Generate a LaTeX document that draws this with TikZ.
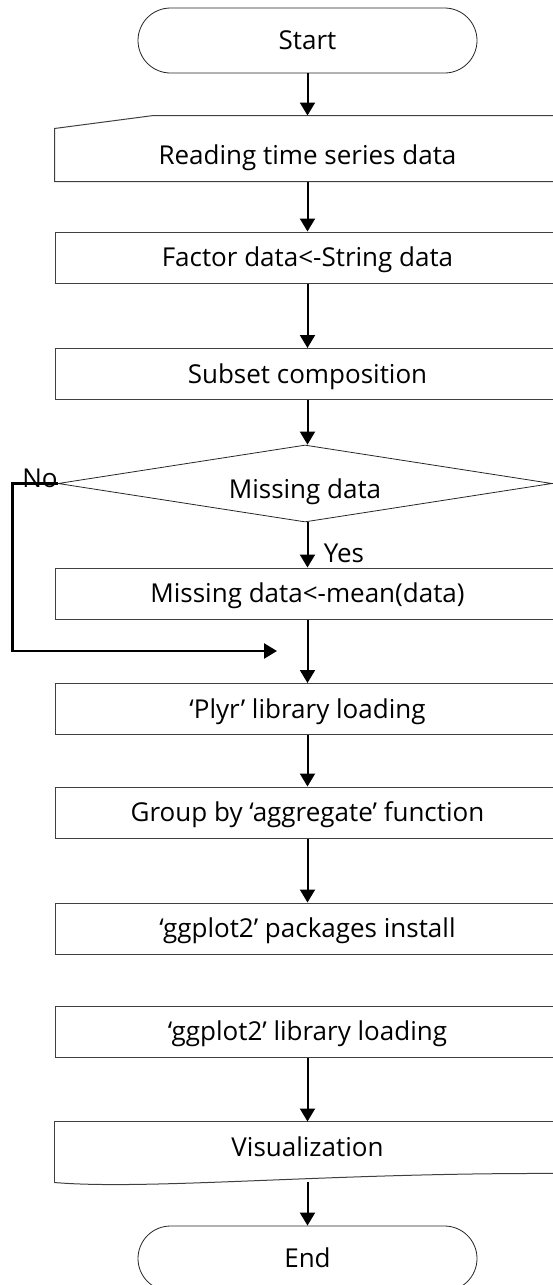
\documentclass[tikz,border=0pt]{standalone}
\usepackage{fontspec}
\setmainfont{Open Sans}
\usetikzlibrary{shapes.geometric,arrows.meta}

\begin{document}
\begin{tikzpicture}[x=1pt,y=-1pt,
    txt/.style={font=\fontsize{26}{30}\selectfont, text height=18.6pt, text depth=0pt, inner sep=0pt},
    terminal/.style={txt, draw=black!85, line width=0.8pt, rounded corners=32.5pt, minimum width=339pt, minimum height=65pt},
    process/.style={txt, draw=black!75, line width=1pt, minimum width=505pt, minimum height=51pt},
    outline/.style={draw=black!75, line width=1pt},
    decision/.style={txt, text height=30.6pt, draw=black!85, line width=0.8pt, diamond, aspect=6.4, minimum width=494pt, minimum height=77pt},
    flow/.style={line width=2pt, -{Triangle[length=13pt,width=15pt]}},
    noflow/.style={flow, line width=2.5pt},
    tag/.style={txt}]
    \useasboundingbox (0,0) rectangle (552,1285);

    \node[terminal] (start) at (307.5,40.5) {Start};
    \node[process, draw=none, minimum height=52pt] (read) at (307.5,155) {Reading time series data};
    \draw[outline] (read.south east) -- (read.south west) -- (read.north west) -- ++(99,-13) -- ([yshift=13pt]read.north east);
    \node[process] (factor) at (307.5,257.5) {Factor data<-String data};
    \node[process] (subset) at (307.5,374) {Subset composition};
    \node[decision] (dec) at (305,483.5) {Missing data};
    \node[process] (missing) at (307.5,593.5) {Missing data<-mean(data)};
    \node[process] (plyr) at (307.5,709) {‘Plyr’ library loading};
    \node[process] (group) at (307.5,812.5) {Group by ‘aggregate’ function};
    \node[process] (install) at (307.5,928.5) {‘ggplot2’ packages install};
    \node[process] (library) at (307.5,1031.5) {‘ggplot2’ library loading};
    \node[process, draw=none, minimum height=50pt] (vis) at (307.5,1147) {Visualization};
    \draw[outline] ([yshift=-10pt]vis.south west) -- (vis.north west) -- (vis.north east);
    \draw[outline] ([yshift=-10pt]vis.south west) .. controls +(95,8) and +(-230,-1) .. ([yshift=-1pt]vis.south east);
    \node[terminal] (end) at (307.5,1258.5) {End};

    \node[tag] (yes) at (344,553) {Yes};
    \node[tag] (no) at (40,478) {No};
    \coordinate (merge) at (277,651);

    \draw[flow] (start.south) -- ([yshift=13pt]read.north);
    \draw[flow] (read.south) -- (factor.north);
    \draw[flow] (factor.south) -- (subset.north);
    \draw[flow] (subset.south) -- (subset.south |- dec.north);
    \draw[flow] (dec.south -| missing.north) -- (missing.north);
    \draw[flow] (missing.south) -- (plyr.north);
    \draw[noflow] (dec.west) -- ++(-45,0) |- (merge);
    \draw[flow] (plyr.south) -- (group.north);
    \draw[flow] (group.south) -- (install.north);
    \draw[flow] (library.south) -- (vis.north);
    \draw[flow] ([yshift=-9pt]vis.south) -- (end.north);
\end{tikzpicture}
\end{document}
